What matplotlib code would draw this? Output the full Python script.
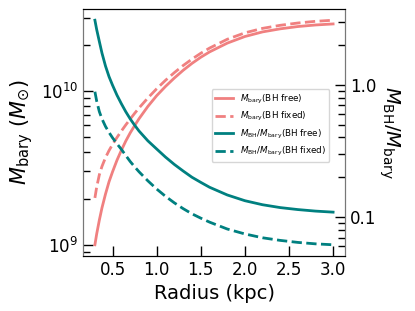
import matplotlib
matplotlib.use("Agg")
import matplotlib.pyplot as plt
from matplotlib.ticker import LogLocator, FixedLocator, NullFormatter, FormatStrFormatter

radius = [0.30, 0.32, 0.35, 0.38, 0.42, 0.46, 0.50, 0.55, 0.60, 0.65, 0.70,
          0.75, 0.80, 0.90, 1.00, 1.10, 1.20, 1.30, 1.40, 1.50, 1.60, 1.80,
          2.00, 2.20, 2.40, 2.60, 2.80, 3.00]

# baryonic mass in units of 1e9 Msun
mbary_free = [1.000, 1.175, 1.445, 1.738, 2.138, 2.570, 2.985, 3.548, 4.121,
              4.732, 5.346, 5.957, 6.607, 7.943, 9.333, 10.72, 12.16, 13.65,
              15.14, 16.60, 17.99, 20.51, 22.65, 24.27, 25.41, 26.30, 26.92, 27.35]
mbary_fixed = [2.018, 2.371, 2.851, 3.236, 3.690, 4.102, 4.498, 4.989, 5.495,
               6.026, 6.577, 7.161, 7.762, 9.016, 10.35, 11.75, 13.18, 14.66,
               16.14, 17.62, 19.05, 21.73, 23.93, 25.59, 26.79, 27.73, 28.44, 28.91]

ratio_free = [3.069, 2.612, 2.123, 1.734, 1.384, 1.151, 0.991, 0.834, 0.718,
              0.625, 0.552, 0.495, 0.447, 0.377, 0.327, 0.284, 0.250, 0.223,
              0.200, 0.183, 0.168, 0.147, 0.133, 0.124, 0.118, 0.114, 0.111, 0.109]
ratio_fixed = [0.885, 0.753, 0.627, 0.552, 0.484, 0.436, 0.397, 0.358, 0.325,
               0.292, 0.263, 0.240, 0.220, 0.188, 0.163, 0.1436, 0.1282, 0.1159,
               0.1059, 0.0982, 0.0916, 0.0813, 0.0746, 0.0698, 0.0667, 0.0644,
               0.0628, 0.0618]

xticks = [0.5, 1.0, 1.5, 2.0, 2.5, 3.0]

pink = "#F08080"
teal = "#008080"

fig = plt.figure(figsize=(4.15, 3.11), dpi=100)
ax = fig.add_axes([83/415, 1-256/311, (345-83)/415, (256-9)/311])
ax2 = ax.twinx()

scale = 1e9
l1, = ax.plot(radius, [v*scale for v in mbary_free], color=pink, lw=2,
              label=r"$M_{\rm bary}$(BH free)")
l2, = ax.plot(radius, [v*scale for v in mbary_fixed], color=pink, lw=2, ls="--",
              label=r"$M_{\rm bary}$(BH fixed)")
l3, = ax2.plot(radius, ratio_free, color=teal, lw=2,
               label=r"$M_{\rm BH}/M_{\rm bary}$(BH free)")
l4, = ax2.plot(radius, ratio_fixed, color=teal, lw=2, ls="--",
               label=r"$M_{\rm BH}/M_{\rm bary}$(BH fixed)")

ax.set_yscale("log")
ax2.set_yscale("log")

ax.set_xticks(xticks)
ax.set_xticklabels([f"{t:.1f}" for t in xticks])

ax2.yaxis.set_major_locator(FixedLocator([0.1, 1.0]))
ax2.yaxis.set_major_formatter(FormatStrFormatter("%.1f"))
ax2.yaxis.set_minor_locator(LogLocator(base=10, subs=range(2, 10)))
ax2.yaxis.set_minor_formatter(NullFormatter())

for a in (ax, ax2):
    a.tick_params(which="major", direction="in", length=7, width=1, labelsize=12)
    a.tick_params(which="minor", direction="in", length=5, width=1)

ax.set_xlabel("Radius (kpc)", fontsize=14)
ax.set_ylabel(r"$M_{\rm bary}$ ($M_{\odot}$)", fontsize=15)
ax2.set_ylabel(r"$M_{\rm BH}/M_{\rm bary}$", fontsize=14, rotation=270, labelpad=18)

for a in (ax, ax2):
    a.spines["left"].set_color("#777777")
    a.spines["right"].set_color("#777777")

ax2.legend(handles=[l1, l2, l3, l4], loc="upper right",
           bbox_to_anchor=(0.94, 0.675), borderaxespad=0, fontsize=6.3,
           handlelength=2.0)

fig.savefig("out.png", dpi=100)
